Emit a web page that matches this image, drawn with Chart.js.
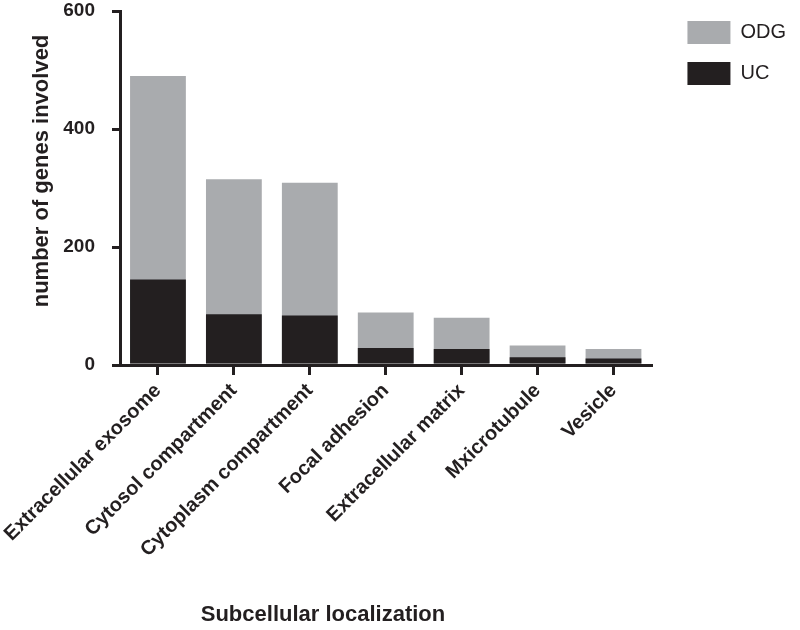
<!DOCTYPE html>
<html>
<head>
<meta charset="utf-8">
<script src="https://cdn.jsdelivr.net/npm/chart.js@4/dist/chart.umd.min.js"></script>
<style>
  html, body { margin: 0; padding: 0; background: #ffffff; }
  #wrap { width: 800px; height: 630px; }
</style>
</head>
<body>
<div id="wrap"><canvas id="c" width="800" height="630"></canvas></div>
<script>
const categories = ["Extracellular exosome", "Cytosol compartment", "Cytoplasm compartment", "Focal adhesion", "Extracellular matrix", "Mxicrotubule", "Vesicle"];
const odgValues = [490, 315, 309, 89, 80, 33, 27];
const ucValues = [145, 86, 84, 29, 27, 13, 11];
const yTicks = [0, 200, 400, 600];

const ink = "#231f20";
const grey = "#a9abae";
const FONT = "'Liberation Sans', Arial, Helvetica, sans-serif";

// nudge legend and axis-title placement to follow the reference layout
const layoutTweaks = {
  id: "layoutTweaks",
  afterLayout(chart) {
    const lg = chart.legend;
    if (lg) { lg.left += 18; lg.right += 18; lg.top += 3; lg.bottom += 3; }
    const xs = chart.scales.x, ys = chart.scales.y;
    if (xs && !xs._titleWrapped) {
      const orig = xs.drawTitle;
      xs.drawTitle = function () {
        const l = this.left, r = this.right;
        this.left = 0; this.right = 646;
        orig.call(this);
        this.left = l; this.right = r;
      };
      xs._titleWrapped = true;
    }
    if (ys && !ys._titleWrapped) {
      const orig = ys.drawTitle;
      ys.drawTitle = function () {
        const t = this.top, b = this.bottom;
        this.top = 0; this.bottom = 342;
        orig.call(this);
        this.top = t; this.bottom = b;
      };
      ys._titleWrapped = true;
    }
  }
};

new Chart(document.getElementById("c"), {
  type: "bar",
  data: {
    labels: categories,
    datasets: [
      { label: "ODG", data: odgValues, backgroundColor: grey, borderWidth: 0, order: 1,
        barPercentage: 0.735, categoryPercentage: 1.0 },
      { label: "UC", data: ucValues, backgroundColor: ink, borderWidth: 0, order: 0,
        barPercentage: 0.735, categoryPercentage: 1.0 }
    ]
  },
  options: {
    responsive: false,
    animation: false,
    layout: { padding: { left: 0, right: 22, top: 0, bottom: 0 } },
    plugins: {
      tooltip: { enabled: false },
      legend: {
        position: "right",
        align: "start",
        labels: {
          boxWidth: 43,
          boxHeight: 23,
          padding: 18,
          color: ink,
          font: { family: FONT, size: 20, weight: "normal" },
          sort: (a, b) => a.datasetIndex - b.datasetIndex
        }
      }
    },
    scales: {
      x: {
        stacked: true,
        afterFit: (s) => { s.height = 265; s.paddingLeft = 0; s.paddingRight = 0; },
        border: { display: true, color: ink, width: 3 },
        grid: { display: true, offset: false, drawOnChartArea: false, drawTicks: true, tickLength: 10, tickWidth: 3, tickColor: ink, color: ink, lineWidth: 3 },
        ticks: {
          autoSkip: false, maxRotation: 45, minRotation: 45, padding: 4,
          color: ink, font: { family: FONT, size: 20, weight: "bold" }
        },
        title: {
          display: true, text: "Subcellular localization", color: ink,
          font: { family: FONT, size: 22, weight: "bold" },
          padding: { top: 0, bottom: 2 }
        }
      },
      y: {
        stacked: false,
        min: 0, max: 600,
        afterFit: (s) => { s.width = 120; s.paddingTop = 11; s.paddingBottom = 11; },
        afterBuildTicks: (s) => { s.ticks = yTicks.map(v => ({ value: v })); },
        border: { display: true, color: ink, width: 3 },
        grid: { display: true, drawOnChartArea: false, drawTicks: true, tickLength: 8, tickWidth: 3, tickColor: ink, color: ink, lineWidth: 3 },
        ticks: {
          padding: 17, color: ink,
          font: { family: FONT, size: 19, weight: "bold" }
        },
        title: {
          display: true, text: "number of genes involved", color: ink,
          font: { family: FONT, size: 22, weight: "bold" },
          padding: { top: 29, bottom: 0 }
        }
      }
    }
  },
  plugins: [layoutTweaks]
});
</script>
</body>
</html>
